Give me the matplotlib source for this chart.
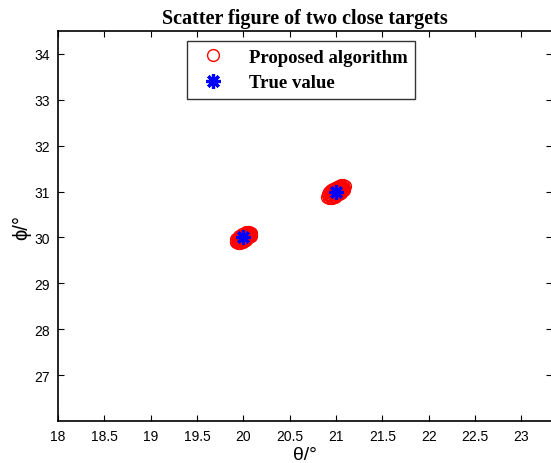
import matplotlib
matplotlib.use("Agg")
import matplotlib.pyplot as plt

# True source directions (theta, phi) in degrees
true_theta = [20.0, 21.0]
true_phi = [30.0, 31.0]

# Estimated directions from repeated trials, target 1
est_theta_1 = [19.919, 19.919, 19.937, 19.922, 19.951, 19.943, 19.963, 19.938, 19.961, 19.955,
               19.976, 19.953, 19.976, 19.993, 19.970, 19.991, 19.988, 20.005, 19.974, 20.000,
               20.017, 19.988, 20.015, 19.989, 20.029, 20.012, 20.030, 20.030, 20.013, 20.044,
               20.030, 20.048, 20.045, 20.028, 20.060, 20.045, 20.063, 20.060, 20.077, 20.049,
               20.078, 20.063, 20.081]
est_phi_1 = [29.894, 29.933, 29.879, 29.963, 29.871, 29.938, 29.874, 29.996, 29.923, 29.980,
             29.916, 30.029, 29.956, 29.901, 30.013, 29.949, 29.997, 29.942, 30.043, 30.000,
             29.945, 30.037, 29.994, 30.076, 29.948, 30.042, 29.987, 30.026, 30.081, 29.980,
             30.065, 30.010, 30.059, 30.114, 30.013, 30.098, 30.044, 30.092, 30.037, 30.129,
             30.076, 30.122, 30.106]

# Estimated directions from repeated trials, target 2
est_theta_2 = [20.904, 20.908, 20.925, 20.911, 20.945, 20.936, 20.958, 20.928, 20.956, 20.949,
               20.973, 20.945, 20.973, 20.994, 20.966, 20.991, 20.987, 21.006, 20.971, 21.000,
               21.020, 20.986, 21.017, 20.987, 21.033, 21.014, 21.035, 21.035, 21.015, 21.051,
               21.035, 21.055, 21.052, 21.032, 21.069, 21.052, 21.072, 21.069, 21.089, 21.056,
               21.090, 21.072, 21.095]
est_phi_2 = [30.878, 30.923, 30.861, 30.957, 30.852, 30.929, 30.856, 30.995, 30.912, 30.977,
             30.904, 31.033, 30.949, 30.886, 31.015, 30.941, 30.997, 30.933, 31.049, 31.000,
             30.937, 31.043, 30.993, 31.087, 30.940, 31.048, 30.985, 31.030, 31.093, 30.977,
             31.075, 31.012, 31.068, 31.131, 31.015, 31.113, 31.051, 31.106, 31.043, 31.148,
             31.087, 31.140, 31.122]

x_ticks = [18, 18.5, 19, 19.5, 20, 20.5, 21, 21.5, 22, 22.5, 23]
y_ticks = [27, 28, 29, 30, 31, 32, 33, 34]

plt.rcParams["font.family"] = ["Liberation Sans", "DejaVu Sans"]

fig = plt.figure(figsize=(5.51, 4.64), dpi=100)
ax = fig.add_axes([0.1053, 0.0905, 0.8965, 0.8405])

ax.plot(est_theta_1 + est_theta_2, est_phi_1 + est_phi_2, linestyle="none",
        marker="o", markersize=8.5, markerfacecolor="none", markeredgecolor="red",
        markeredgewidth=1.0, label="Proposed algorithm")
ax.plot(true_theta, true_phi, linestyle="none", marker=(8, 2, 0), markersize=10.5,
        markeredgecolor="blue", markerfacecolor="blue", markeredgewidth=2.3,
        label="True value")

ax.set_xlim(18, 23.33)
ax.set_ylim(26, 34.5)
ax.set_xticks(x_ticks)
ax.set_xticklabels([f"{t:g}" for t in x_ticks])
ax.set_yticks(y_ticks)
ax.tick_params(direction="in", length=4, width=0.8, top=True, right=True,
               labelsize=10, pad=6, colors="black")
for s in ax.spines.values():
    s.set_linewidth(1.2)

ax.set_title("Scatter figure of two close targets", fontfamily="Liberation Serif",
             fontweight="bold", fontsize=14.5, pad=6)
ax.set_xlabel("θ/°", fontsize=14, labelpad=2)
ax.set_ylabel("ϕ/°", fontsize=14.5, labelpad=2)

leg = ax.legend(loc="upper left", bbox_to_anchor=(0.261, 0.974), borderaxespad=0,
                prop={"family": "Liberation Serif", "weight": "bold", "size": 13.5},
                frameon=True, fancybox=False, edgecolor="black", handlelength=2.0,
                handletextpad=0.9, borderpad=0.4, labelspacing=0.45)
leg.get_frame().set_linewidth(1.0)

fig.savefig("out.png", dpi=100)
